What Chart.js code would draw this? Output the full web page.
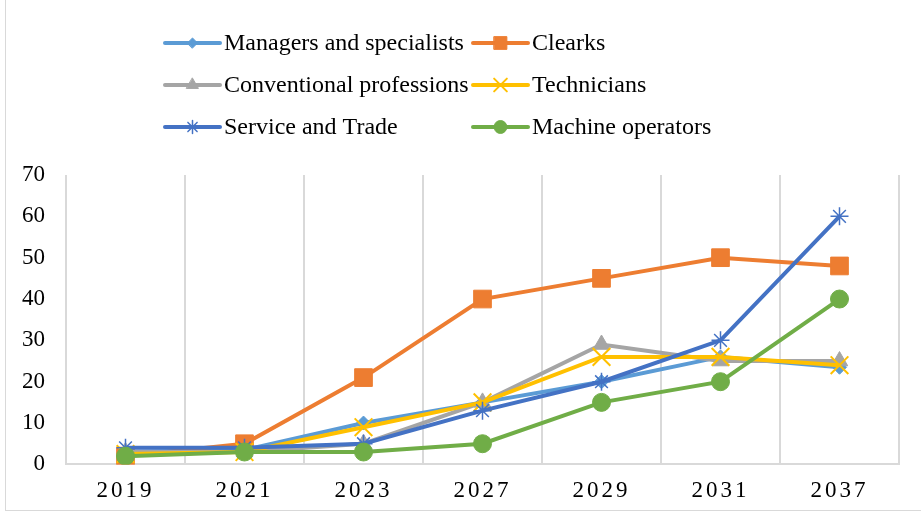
<!DOCTYPE html>
<html>
<head>
<meta charset="utf-8">
<script src="https://cdn.jsdelivr.net/npm/chart.js@4/dist/chart.umd.min.js"></script>
<style>
  html, body { margin: 0; padding: 0; background: #fff; }
  #wrap { position: relative; width: 921px; height: 516px; overflow: hidden; }
  #frame { position: absolute; left: 5px; top: -2px; width: 930px; height: 513px; border: 1px solid #d9d9d9; box-sizing: border-box; }
  canvas { position: absolute; left: 0; top: 0; }
</style>
</head>
<body>
<div id="wrap">
  <div id="frame"></div>
  <canvas id="chart" width="921" height="516"></canvas>
</div>
<script>
const years = ['2019', '2021', '2023', '2027', '2029', '2031', '2037'];
const seriesNames = ['Managers and specialists', 'Clearks', 'Conventional professions', 'Technicians', 'Service and Trade', 'Machine operators'];
const managers = [3, 3.5, 10, 15, 20, 26, 23.5];
const clearks = [2, 5, 21, 40, 45, 50, 48];
const conventional = [3, 3, 5, 15, 29, 25, 25];
const technicians = [2.5, 3, 9, 15, 26, 26, 24];
const serviceTrade = [4, 4, 5, 13, 20, 30, 60];
const machineOps = [2, 3, 3, 5, 15, 20, 40];
const yTicks = [0, 10, 20, 30, 40, 50, 60, 70];

const serif = '"Liberation Serif", "Times New Roman", serif';

// series look, excel-ish
const looks = [
    { color: '#5B9BD5', style: 'rectRot', r: 7, bw: 1, fill: true },
    { color: '#ED7D31', style: 'rect', r: 12.5, bw: 1, fill: true },
    { color: '#A5A5A5', style: 'triangle', r: 9.5, bw: 1, fill: true },
    { color: '#FFC000', style: 'crossRot', r: 12.5, bw: 2, fill: false },
    { color: '#4472C4', style: 'star', r: 9, bw: 1.5, fill: false },
    { color: '#70AD47', style: 'circle', r: 9, bw: 1, fill: true }
];
const values = [managers, clearks, conventional, technicians, serviceTrade, machineOps];

const datasets = seriesNames.map((name, i) => ({
    label: name,
    data: values[i],
    borderColor: looks[i].color,
    backgroundColor: looks[i].fill ? looks[i].color : 'transparent',
    borderWidth: 4,
    pointStyle: looks[i].style,
    pointRadius: looks[i].r,
    pointBorderWidth: looks[i].bw,
    pointBorderColor: looks[i].color,
    pointBackgroundColor: looks[i].fill ? looks[i].color : 'transparent',
    tension: 0,
    order: seriesNames.length - i
}));

// two-column legend like the original
const gridLegend = {
    id: 'gridLegend',
    afterDraw(chart) {
        const ctx = chart.ctx;
        const cols = [165, 473];
        const rows = [43, 85, 127];
        const lineLen = 55;
        ctx.save();
        ctx.font = '24px ' + serif;
        ctx.textBaseline = 'middle';
        chart.data.datasets.forEach((ds, i) => {
            const x = cols[i % 2];
            const y = rows[Math.floor(i / 2)];
            ctx.strokeStyle = ds.borderColor;
            ctx.lineWidth = 4;
            ctx.lineCap = 'round';
            ctx.beginPath();
            ctx.moveTo(x, y);
            ctx.lineTo(x + lineLen, y);
            ctx.stroke();
            ctx.fillStyle = ds.pointBackgroundColor;
            ctx.strokeStyle = ds.pointBorderColor;
            ctx.lineWidth = ds.pointBorderWidth;
            Chart.helpers.drawPoint(ctx, {
                pointStyle: ds.pointStyle,
                radius: ds.pointRadius * 0.72,
                rotation: 0,
                borderWidth: ds.pointBorderWidth
            }, x + lineLen / 2, y);
            ctx.fillStyle = '#000';
            ctx.fillText(ds.label, x + lineLen + 4, y + 1);
        });
        ctx.restore();
    }
};

// spaced-out year labels on the x axis
const spacedX = {
    id: 'spacedX',
    afterLayout(chart) {
        const sx = chart.scales.x;
        if (sx && !sx._spaced) {
            const orig = sx.drawLabels.bind(sx);
            sx.drawLabels = function(area) {
                const c = this.ctx;
                c.save();
                c.letterSpacing = '3px';
                orig(area);
                c.restore();
            };
            sx._spaced = true;
        }
    }
};

new Chart(document.getElementById('chart'), {
    type: 'line',
    data: { labels: years, datasets: datasets },
    options: {
        responsive: false,
        animation: false,
        devicePixelRatio: 1,
        layout: { padding: { top: 175, right: 22, bottom: -2, left: 1 } },
        plugins: {
            legend: { display: false },
            tooltip: { enabled: false }
        },
        scales: {
            x: {
                offset: true,
                grid: { display: true, offset: true, color: '#d9d9d9', lineWidth: 2, drawTicks: false },
                border: { display: true, color: '#d9d9d9', width: 2 },
                ticks: { color: '#000', font: { family: serif, size: 23 }, padding: 13 }
            },
            y: {
                min: 0,
                max: 70,
                afterBuildTicks(axis) { axis.ticks = yTicks.map(v => ({ value: v })); },
                grid: { display: false, drawTicks: false },
                border: { display: false },
                ticks: { color: '#000', font: { family: serif, size: 23 }, padding: 21 }
            }
        }
    },
    plugins: [gridLegend, spacedX]
});
</script>
</body>
</html>
